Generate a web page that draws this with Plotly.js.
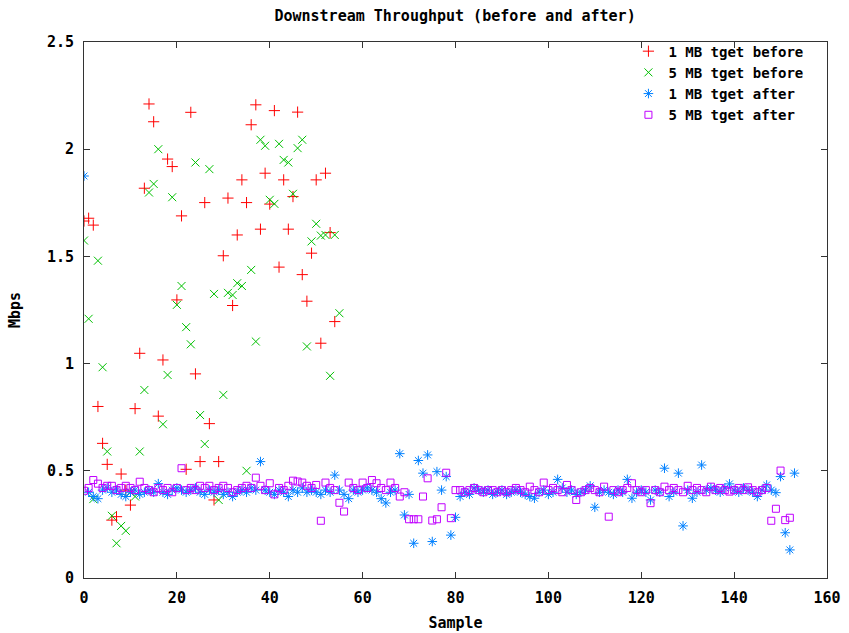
<!DOCTYPE html>
<html>
<head>
<meta charset="utf-8">
<script src="https://cdn.plot.ly/plotly-3.0.1.min.js"></script>
<style>html,body{margin:0;padding:0;background:#fff;}#chart{width:849px;height:633px;}</style>
</head>
<body>
<div id="chart"></div>
<script>
// Series names
const seriesNames = ["1 MB tget before", "5 MB tget before", "1 MB tget after", "5 MB tget after"];

// 1 MB tget before (samples 0..54)
const before1MB = [1.665,1.678,1.646,0.80,0.628,0.53,0.27,0.286,0.485,0.41,
 0.34,0.79,1.048,1.818,2.211,2.128,0.755,1.017,1.954,1.919,
 1.297,1.689,0.507,2.172,0.952,0.543,1.751,0.72,0.364,0.543,
 1.503,1.772,1.271,1.60,1.857,1.751,2.114,2.207,1.627,1.888,
 1.744,2.18,1.45,1.857,1.627,1.779,2.173,1.415,1.291,1.515,
 1.857,1.095,1.888,1.611,1.196];

// 5 MB tget before (samples 0..55)
const before5MB = [1.574,1.209,0.368,1.48,0.983,0.59,0.29,0.162,0.243,0.22,
 0.40,0.38,0.59,0.877,1.798,1.838,2.0,0.717,0.947,1.776,
 1.274,1.362,1.17,1.09,1.938,0.76,0.625,1.907,1.325,0.364,
 0.854,1.33,1.32,1.375,1.362,0.50,1.437,1.103,2.044,2.016,
 1.764,1.745,2.025,1.95,1.938,1.792,2.005,2.044,1.08,1.57,
 1.652,1.597,1.60,0.943,1.60,1.235];

// 1 MB tget after (samples 0..153)
const after1MB = [1.875,0.40,0.38,0.37,0.41,0.42,0.40,0.41,0.39,0.38,
 0.40,0.41,0.39,0.40,0.41,0.40,0.44,0.40,0.39,0.41,
 0.42,0.41,0.40,0.41,0.42,0.40,0.39,0.41,0.40,0.41,
 0.39,0.40,0.38,0.40,0.41,0.40,0.42,0.41,0.543,0.41,
 0.40,0.39,0.41,0.40,0.38,0.41,0.40,0.42,0.40,0.41,
 0.40,0.39,0.41,0.40,0.48,0.41,0.39,0.37,0.41,0.40,
 0.41,0.42,0.41,0.40,0.37,0.35,0.40,0.41,0.58,0.294,
 0.39,0.162,0.548,0.489,0.574,0.17,0.496,0.41,0.473,0.20,
 0.283,0.38,0.40,0.39,0.42,0.41,0.40,0.41,0.39,0.40,
 0.41,0.39,0.40,0.41,0.40,0.39,0.38,0.372,0.40,0.41,
 0.39,0.40,0.46,0.42,0.40,0.41,0.39,0.40,0.41,0.43,
 0.33,0.40,0.41,0.40,0.39,0.41,0.40,0.46,0.372,0.40,
 0.41,0.40,0.364,0.41,0.40,0.512,0.38,0.40,0.489,0.243,
 0.41,0.372,0.40,0.527,0.41,0.42,0.41,0.40,0.42,0.439,
 0.41,0.40,0.42,0.41,0.40,0.38,0.41,0.434,0.41,0.398,
 0.473,0.211,0.131,0.489];

// 5 MB tget after (samples 0..152)
const after5MB = [0.407,0.42,0.457,0.44,0.42,0.43,0.43,0.41,0.42,0.43,
 0.42,0.41,0.449,0.42,0.41,0.40,0.42,0.41,0.42,0.40,
 0.42,0.512,0.41,0.42,0.41,0.43,0.42,0.43,0.41,0.42,
 0.43,0.42,0.40,0.41,0.42,0.43,0.42,0.468,0.43,0.41,
 0.442,0.39,0.42,0.41,0.43,0.454,0.45,0.445,0.43,0.42,
 0.434,0.267,0.445,0.42,0.41,0.351,0.31,0.445,0.42,0.41,
 0.445,0.42,0.457,0.442,0.42,0.41,0.445,0.42,0.38,0.40,
 0.274,0.274,0.274,0.38,0.465,0.268,0.274,0.33,0.491,0.279,
 0.41,0.41,0.40,0.41,0.42,0.41,0.40,0.41,0.41,0.40,
 0.41,0.40,0.41,0.42,0.41,0.40,0.426,0.41,0.40,0.445,
 0.41,0.42,0.41,0.40,0.434,0.41,0.364,0.40,0.41,0.42,
 0.41,0.40,0.426,0.286,0.41,0.40,0.41,0.42,0.442,0.41,
 0.40,0.41,0.349,0.41,0.40,0.426,0.41,0.42,0.41,0.40,
 0.43,0.41,0.42,0.41,0.40,0.426,0.41,0.42,0.41,0.403,
 0.41,0.42,0.41,0.423,0.41,0.40,0.41,0.42,0.267,0.323,
 0.501,0.27,0.281];

const xTicks = [0,20,40,60,80,100,120,140,160];
const yTicks = [0,0.5,1,1.5,2,2.5];

const idx = arr => arr.map((_, i) => i);
const FONT = "DejaVu Sans Mono, Liberation Mono, monospace";
const FS = 15;

function tr(name, ys, symbol, color, size) {
  return {
    type: "scatter", mode: "markers", name: name,
    x: idx(ys), y: ys,
    marker: {symbol: symbol, size: size, color: color, line: {color: color, width: 1}}
  };
}

const data = [
  tr(seriesNames[0], before1MB, "cross-thin-open", "#ff0000", 8),
  tr(seriesNames[1], before5MB, "x-thin-open", "#00c000", 8),
  tr(seriesNames[2], after1MB, "asterisk-open", "#0080ff", 8),
  tr(seriesNames[3], after5MB, "square-open", "#c000ff", 7)
];

const axisCommon = {
  showgrid: false, zeroline: false, showline: true, mirror: "ticks",
  linecolor: "#333", linewidth: 1, ticks: "inside", ticklen: 6, tickwidth: 1, tickcolor: "#333",
  tickfont: {family: FONT, size: FS, color: "#000", weight: "bold"}
};

const layout = {
  width: 849, height: 633,
  margin: {l: 84, r: 22, t: 42, b: 55},
  paper_bgcolor: "#fff", plot_bgcolor: "#fff",
  font: {family: FONT, size: FS, color: "#000"},
  title: {text: "Downstream Throughput (before and after)", x: 0.536, xanchor: "center", y: 0.975, yanchor: "middle",
          font: {family: FONT, size: FS, color: "#000", weight: "bold"}},
  xaxis: Object.assign({}, axisCommon, {
    range: [0, 160], tickvals: xTicks, ticktext: xTicks.map(String), ticklabelstandoff: 6,
    title: {text: "Sample", standoff: 11, font: {family: FONT, size: FS, color: "#000", weight: "bold"}}
  }),
  yaxis: Object.assign({}, axisCommon, {
    range: [0, 2.5], tickvals: yTicks, ticktext: yTicks.map(String), ticklabelstandoff: 6,
    title: {text: "Mbps", standoff: 22, font: {family: FONT, size: FS, color: "#000", weight: "bold"}}
  }),
  showlegend: true,
  legend: {x: 0.975, xanchor: "right", y: 1.012, yanchor: "top", bgcolor: "rgba(0,0,0,0)",
           font: {family: FONT, size: 14, color: "#000", weight: "bold"}, tracegroupgap: 0, itemwidth: 30}
};

Plotly.newPlot("chart", data, layout, {displayModeBar: false, staticPlot: true});
</script>
</body>
</html>
